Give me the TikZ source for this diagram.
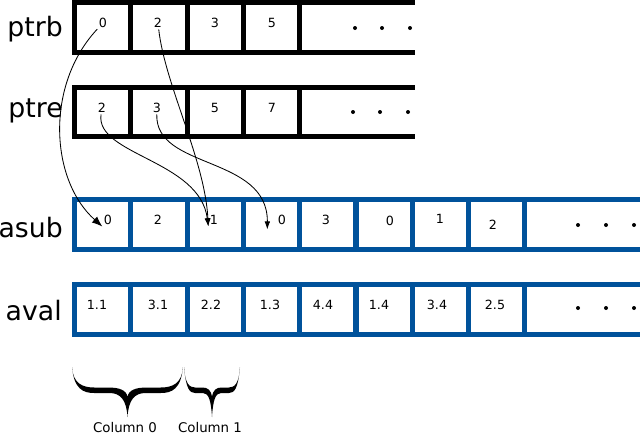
\documentclass[tikz,border=0pt]{standalone}
\usepackage{fontspec}
\setmainfont{DejaVu Sans}
\usepackage{tikz}
\usetikzlibrary{arrows.meta}
\tikzset{>={Latex[length=2mm,width=1.4mm]}}
\definecolor{arrblue}{RGB}{0,82,155}
\tikzstyle{cellbox} = [draw, rectangle, line width=0.125cm, outer sep=0pt,
    minimum width=1.4075cm, minimum height=1.25cm, inner sep=0pt]
\tikzstyle{rowline} = [line width=0.125cm]
\tikzstyle{numtext} = [font=\fontsize{9}{10}\selectfont, inner sep=1pt]
\tikzstyle{rowlabel} = [font=\fontsize{19}{21}\selectfont, inner sep=0pt,
    anchor=base east]
\tikzstyle{dotmark} = [fill, circle, inner sep=0pt, minimum size=0.1cm]
\tikzstyle{coltext} = [font=\fontsize{9.5}{11}\selectfont]
% filled brace from x=#1 to x=#2, hanging below y=367
\newcommand{\colbrace}[2]{%
    \pgfmathsetmacro\bm{(#1+#2)/2}%
    \pgfmathsetmacro\bq{(#2-#1)/4}%
    \fill (#1,367) .. controls (#1+1,384) and (#1+0.4*\bq,387.5) .. (#1+0.8*\bq,387.5)
        -- (\bm-0.7*\bq,387.5) .. controls (\bm-0.3*\bq,387.5) and (\bm-1,390) .. (\bm,397)
        .. controls (\bm+1,390) and (\bm+0.3*\bq,387.5) .. (\bm+0.7*\bq,387.5)
        -- (#2-0.8*\bq,387.5) .. controls (#2-0.4*\bq,387.5) and (#2-1,384) .. (#2,367)
        .. controls (#2-2,389) and (#2-0.4*\bq,393) .. (#2-0.8*\bq,393)
        -- (\bm+0.65*\bq,393) .. controls (\bm+0.25*\bq,393) and (\bm+1,400) .. (\bm,417)
        .. controls (\bm-1,400) and (\bm-0.25*\bq,393) .. (\bm-0.65*\bq,393)
        -- (#1+0.8*\bq,393) .. controls (#1+0.4*\bq,393) and (#1+2,389) .. (#1,367) -- cycle;
}

\begin{document}
\begin{tikzpicture}[x=0.025cm,y=-0.025cm]
\useasboundingbox (0,0) rectangle (640,435);
    %labels
    \node[rowlabel] (ptrb) at (63,36) {ptrb};
    \node[rowlabel] (ptre) at (63,117) {ptre};
    \node[rowlabel] (asub) at (63,237) {asub};
    \node[rowlabel] (aval) at (62,320) {aval};
    %ptrb
    \foreach \v/\nx [count=\i from 0] in {0/103,2/158,3/215,5/272} {
        \node[cellbox] (ptrb\i) at (102.65+56.3*\i,27.5) {};
        \node[numtext] (ptrbn\i) at (\nx,23) {\v};
    }
    \draw[rowline] (ptrb3.north east) -- ++(115.5,0);
    \draw[rowline] (ptrb3.south east) -- ++(115.5,0);
    \foreach \x in {355,382,410} \node[dotmark] at (\x,28) {};
    %ptre
    \foreach \v/\nx [count=\i from 0] in {2/102,3/157,5/215,7/272} {
        \node[cellbox, minimum height=1.225cm] (ptre\i) at (102.65+56.3*\i,112) {};
        \node[numtext] (ptren\i) at (\nx,108) {\v};
    }
    \draw[rowline] (ptre3.north east) -- ++(115.5,0);
    \draw[rowline] (ptre3.south east) -- ++(115.5,0);
    \foreach \x in {353,380,408} \node[dotmark] at (\x,112) {};
    %asub
    \foreach \v/\nx/\ny [count=\i from 0] in {0/108/220,2/158/220,1/214/220,
        0/282/220,3/326/220,0/390/221,1/440/219,2/493/225} {
        \node[cellbox, arrblue] (asub\i) at (102.65+56.3*\i,224.5) {};
        \node[numtext] (asubn\i) at (\nx,\ny) {\v};
    }
    \draw[rowline, arrblue] (asub7.north east) -- ++(116,0);
    \draw[rowline, arrblue] (asub7.south east) -- ++(116,0);
    \foreach \x in {578,606,634} \node[dotmark] at (\x,225) {};
    %aval
    \foreach \v/\nx [count=\i from 0] in {1.1/97,3.1/158,2.2/211,1.3/270,
        4.4/323,1.4/379,3.4/437,2.5/495} {
        \node[cellbox, arrblue] (aval\i) at (102.65+56.3*\i,309.5) {};
        \node[numtext] (avaln\i) at (\nx,305) {\v};
    }
    \draw[rowline, arrblue] (aval7.north east) -- ++(116,0);
    \draw[rowline, arrblue] (aval7.south east) -- ++(116,0);
    \foreach \x in {578,606,634} \node[dotmark] at (\x,308) {};
    %arrows
    \draw[->, line width=0.6pt, >={Latex[length=2.6mm,width=2mm]}]
        (ptrbn0) .. controls (45,85) and (50,180) .. (asubn0.south west);
    \draw[->, line width=0.6pt]
        (ptrbn1) .. controls (165,85) and (205,160) .. (asubn2.south west);
    \draw[->, line width=0.6pt]
        (ptren0) .. controls (95,155) and (200,160) .. (asubn2.south west);
    \draw[->, line width=0.6pt]
        (ptren1) .. controls (155,170) and (268,155) .. ([shift={(-9,3)}]asubn3.south west);
    %braces
    \colbrace{72}{183}
    \colbrace{184}{240}
    \node[coltext] (col0) at (125,428) {Column 0};
    \node[coltext] (col1) at (210,428) {Column 1};
\end{tikzpicture}
\end{document}
